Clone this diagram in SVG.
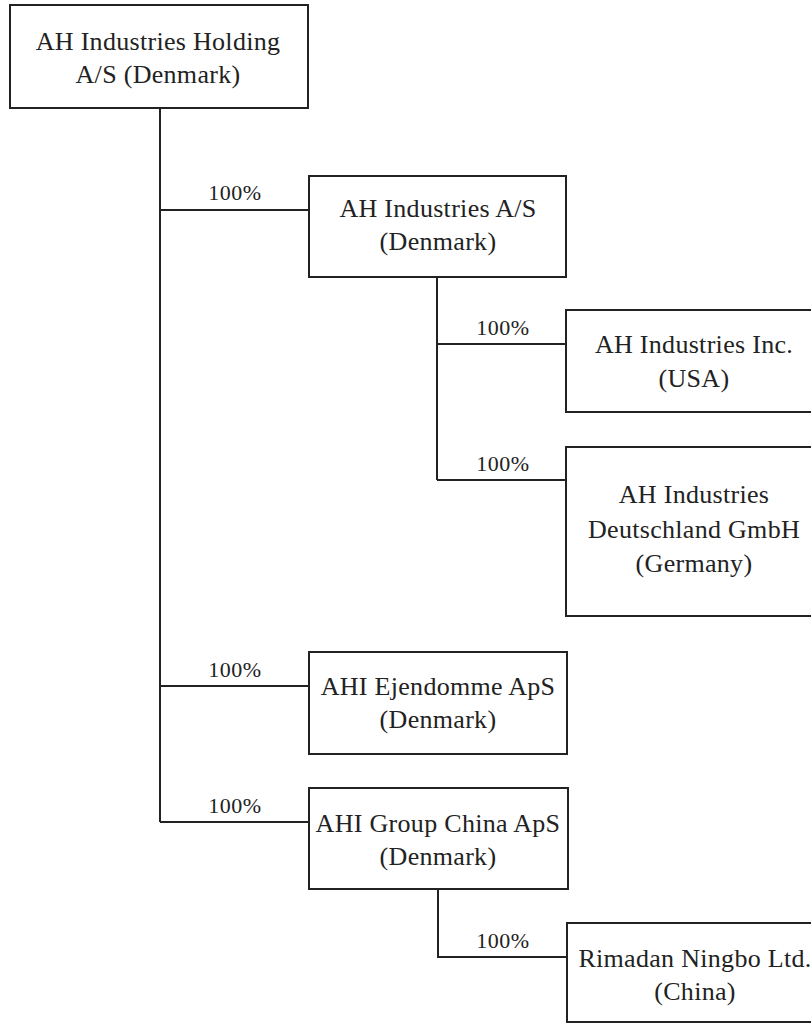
<svg xmlns="http://www.w3.org/2000/svg" width="811" height="1024" viewBox="0 0 811 1024">
<style>
.box{fill:#fff;stroke:#222;stroke-width:2}
.con{fill:none;stroke:#222;stroke-width:2}
text{fill:#222;text-anchor:middle}
.t{font-size:26px;letter-spacing:0.3px}
.p{font-size:22px;letter-spacing:0.5px}
</style>
<rect width="811" height="1024" fill="#fff"/>
<g font-family="Liberation Serif, DejaVu Serif, serif">
<g id="connectors">
<path class="con" d="M160 108V822M160 210H309M160 686H309M160 822H309"/>
<path class="con" d="M437 277V480M437 344H566M437 480H566"/>
<path class="con" d="M438 889V957H567"/>
<text class="p" x="235" y="200">100%</text>
<text class="p" x="503" y="335">100%</text>
<text class="p" x="503" y="471">100%</text>
<text class="p" x="235" y="677">100%</text>
<text class="p" x="235" y="813">100%</text>
<text class="p" x="503" y="948">100%</text>
</g>
<g id="n-holding">
<rect class="box" x="10" y="5" width="298" height="103"/>
<text class="t" x="158" y="50">AH Industries Holding</text>
<text class="t" x="158" y="83">A/S (Denmark)</text>
</g>
<g id="n-ahi-as">
<rect class="box" x="309" y="176" width="257" height="101"/>
<text class="t" x="438" y="217">AH Industries A/S</text>
<text class="t" x="438" y="250">(Denmark)</text>
</g>
<g id="n-usa">
<rect class="box" x="566" y="310" width="260" height="102"/>
<text class="t" x="694" y="353">AH Industries Inc.</text>
<text class="t" x="694" y="387">(USA)</text>
</g>
<g id="n-germany">
<rect class="box" x="566" y="447" width="260" height="169"/>
<text class="t" x="694" y="503">AH Industries</text>
<text class="t" x="694" y="538">Deutschland GmbH</text>
<text class="t" x="694" y="572">(Germany)</text>
</g>
<g id="n-ejendomme">
<rect class="box" x="309" y="652" width="258" height="102"/>
<text class="t" x="438" y="695">AHI Ejendomme ApS</text>
<text class="t" x="438" y="728">(Denmark)</text>
</g>
<g id="n-china-aps">
<rect class="box" x="309" y="788" width="259" height="101"/>
<text class="t" x="438" y="832">AHI Group China ApS</text>
<text class="t" x="438" y="865">(Denmark)</text>
</g>
<g id="n-rimadan">
<rect class="box" x="567" y="923" width="260" height="99"/>
<text class="t" x="695" y="967">Rimadan Ningbo Ltd.</text>
<text class="t" x="695" y="1000">(China)</text>
</g>
</g>
</svg>
